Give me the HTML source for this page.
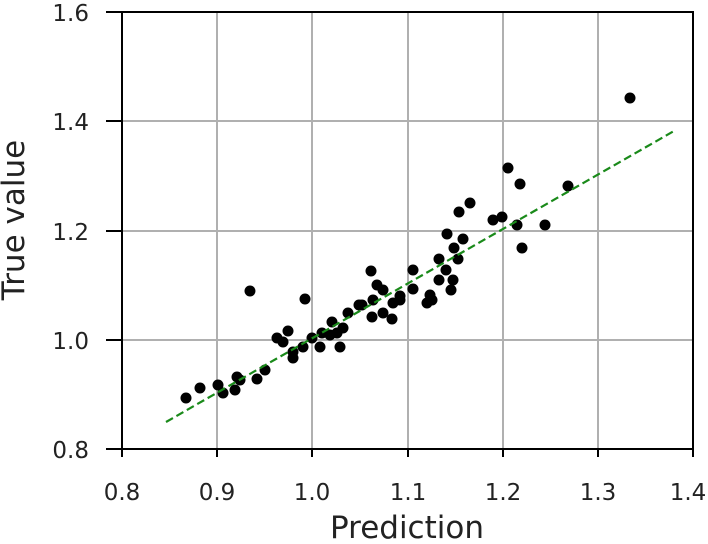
<!DOCTYPE html>
<html><head><style>body{margin:0;background:#fff}svg{display:block}text{font-family:"DejaVu Sans","Liberation Sans",sans-serif;fill:#222}</style></head>
<body>
<svg width="708" height="544" viewBox="0 0 708 544">
<g stroke="#b0b0b0" stroke-width="2">
<line x1="122" y1="12" x2="122" y2="449"/><line x1="217" y1="12" x2="217" y2="449"/><line x1="312" y1="12" x2="312" y2="449"/><line x1="408" y1="12" x2="408" y2="449"/><line x1="503" y1="12" x2="503" y2="449"/><line x1="598" y1="12" x2="598" y2="449"/>
<line x1="122" y1="121" x2="693" y2="121"/><line x1="122" y1="231" x2="693" y2="231"/><line x1="122" y1="340" x2="693" y2="340"/>
</g>
<g fill="#000">
<circle cx="250" cy="291" r="5.5"/><circle cx="305" cy="299" r="5.5"/><circle cx="186" cy="398" r="5.5"/><circle cx="200" cy="388" r="5.5"/><circle cx="218" cy="385" r="5.5"/><circle cx="223" cy="393" r="5.5"/><circle cx="235" cy="390" r="5.5"/><circle cx="237" cy="377" r="5.5"/><circle cx="240" cy="380" r="5.5"/><circle cx="257" cy="379" r="5.5"/><circle cx="265" cy="370" r="5.5"/><circle cx="277" cy="338" r="5.5"/><circle cx="283" cy="342" r="5.5"/><circle cx="288" cy="331" r="5.5"/><circle cx="293" cy="358" r="5.5"/><circle cx="293" cy="352" r="5.5"/><circle cx="303" cy="347" r="5.5"/><circle cx="320" cy="347" r="5.5"/><circle cx="332" cy="322" r="5.5"/><circle cx="340" cy="347" r="5.5"/><circle cx="343" cy="328" r="5.5"/><circle cx="348" cy="313" r="5.5"/><circle cx="359" cy="305" r="5.5"/><circle cx="322" cy="333" r="5.5"/><circle cx="337" cy="333" r="5.5"/><circle cx="312" cy="338" r="5.5"/><circle cx="330" cy="335" r="5.5"/>
<circle cx="508" cy="168" r="5.5"/><circle cx="470" cy="203" r="5.5"/><circle cx="459" cy="212" r="5.5"/><circle cx="493" cy="220" r="5.5"/><circle cx="502" cy="217" r="5.5"/><circle cx="517" cy="225" r="5.5"/><circle cx="522" cy="248" r="5.5"/><circle cx="447" cy="234" r="5.5"/><circle cx="463" cy="239" r="5.5"/><circle cx="454" cy="248" r="5.5"/><circle cx="458" cy="259" r="5.5"/><circle cx="439" cy="259" r="5.5"/><circle cx="446" cy="270" r="5.5"/><circle cx="413" cy="270" r="5.5"/><circle cx="371" cy="271" r="5.5"/><circle cx="439" cy="280" r="5.5"/><circle cx="453" cy="280" r="5.5"/><circle cx="451" cy="290" r="5.5"/><circle cx="430" cy="295" r="5.5"/><circle cx="427" cy="303" r="5.5"/><circle cx="413" cy="289" r="5.5"/><circle cx="400" cy="300" r="5.5"/><circle cx="393" cy="303" r="5.5"/><circle cx="377" cy="285" r="5.5"/><circle cx="383" cy="290" r="5.5"/><circle cx="373" cy="300" r="5.5"/><circle cx="372" cy="317" r="5.5"/><circle cx="383" cy="313" r="5.5"/><circle cx="392" cy="319" r="5.5"/><circle cx="362" cy="305" r="5.5"/><circle cx="630" cy="98" r="5.5"/><circle cx="568" cy="186" r="5.5"/><circle cx="545" cy="225" r="5.5"/><circle cx="520" cy="184" r="5.5"/><circle cx="400" cy="296" r="5.5"/><circle cx="432" cy="300" r="5.5"/>
</g>
<line x1="166" y1="422" x2="674" y2="131" stroke="#1a8a1a" stroke-width="2.2" stroke-dasharray="8,4"/>
<rect x="122" y="12" width="571" height="437" fill="none" stroke="#000" stroke-width="2"/>
<g stroke="#000" stroke-width="2">
<line x1="122" y1="449" x2="122" y2="457"/><line x1="217" y1="449" x2="217" y2="457"/><line x1="312" y1="449" x2="312" y2="457"/><line x1="408" y1="449" x2="408" y2="457"/><line x1="503" y1="449" x2="503" y2="457"/><line x1="598" y1="449" x2="598" y2="457"/><line x1="693" y1="449" x2="693" y2="457"/>
<line x1="106" y1="12" x2="122" y2="12"/><line x1="106" y1="121" x2="122" y2="121"/><line x1="106" y1="231" x2="122" y2="231"/><line x1="106" y1="340" x2="122" y2="340"/><line x1="106" y1="449" x2="122" y2="449"/>
</g>
<g font-size="23" text-anchor="middle">
<text x="122" y="500">0.8</text><text x="217" y="500">0.9</text><text x="312" y="500">1.0</text><text x="408" y="500">1.1</text><text x="503" y="500">1.2</text><text x="598" y="500">1.3</text><text x="688" y="500">1.4</text>
</g>
<g font-size="23" text-anchor="end">
<text x="89" y="21">1.6</text><text x="89" y="130">1.4</text><text x="89" y="240">1.2</text><text x="89" y="349">1.0</text><text x="89" y="458">0.8</text>
</g>
<text x="407" y="538" font-size="31" text-anchor="middle">Prediction</text>
<text transform="translate(24,220) rotate(-90)" font-size="31" text-anchor="middle">True value</text>
</svg>
</body></html>
